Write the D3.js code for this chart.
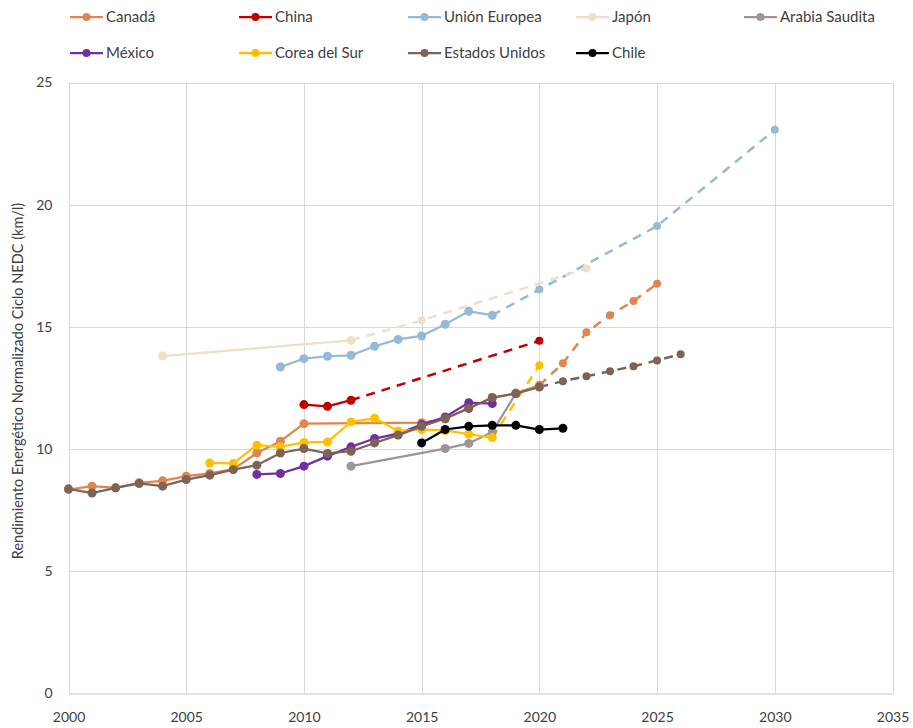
<!DOCTYPE html>
<html>
<head>
<meta charset="utf-8">
<script src="https://cdn.jsdelivr.net/npm/d3@7"></script>
<style>
  body { margin: 0; background: #fff; }
  text { font-family: Lato, "Open Sans", sans-serif; fill: #404040; }
</style>
</head>
<body>
<script>
// datos observados [año, km/l]
var canada = [[2000, 8.33], [2001, 8.47], [2002, 8.40], [2003, 8.61], [2004, 8.69], [2005, 8.88],
              [2006, 8.99], [2007, 9.17], [2008, 9.83], [2009, 10.31], [2010, 11.03], [2015, 11.07],
              [2016, 11.22], [2017, 11.68], [2018, 12.08], [2019, 12.28], [2020, 12.6]];
var china = [[2010, 11.81], [2011, 11.74], [2012, 11.99]];
var ue = [[2009, 13.35], [2010, 13.69], [2011, 13.79], [2012, 13.83], [2013, 14.2], [2014, 14.48],
          [2015, 14.62], [2016, 15.1], [2017, 15.63], [2018, 15.47]];
var japon = [[2004, 13.8], [2012, 14.44]];
var arabia = [[2012, 9.29], [2016, 10.01], [2017, 10.22], [2018, 10.69], [2019, 12.26]];
var mexico = [[2008, 8.95], [2009, 8.99], [2010, 9.29], [2011, 9.7], [2012, 10.08], [2013, 10.42],
              [2014, 10.62], [2015, 10.99], [2016, 11.3], [2017, 11.89], [2018, 11.85]];
var corea = [[2006, 9.42], [2007, 9.4], [2008, 10.15], [2009, 10.08], [2010, 10.26], [2011, 10.28],
             [2012, 11.1], [2013, 11.25], [2014, 10.73], [2015, 10.79], [2016, 10.75], [2017, 10.6], [2018, 10.46]];
var eeuu = [[2000, 8.36], [2001, 8.19], [2002, 8.40], [2003, 8.58], [2004, 8.47], [2005, 8.74],
            [2006, 8.92], [2007, 9.15], [2008, 9.33], [2009, 9.83], [2010, 10.01], [2011, 9.81],
            [2012, 9.9], [2013, 10.24], [2014, 10.56], [2015, 10.92], [2016, 11.24], [2017, 11.65],
            [2018, 12.1], [2019, 12.26], [2020, 12.53]];
var chile = [[2015, 10.24], [2016, 10.79], [2017, 10.92], [2018, 10.96], [2019, 10.96], [2020, 10.79], [2021, 10.84]];

// metas / proyecciones (línea discontinua)
var canadaMeta = [[2020, 12.6], [2021, 13.5], [2022, 14.77], [2023, 15.47], [2024, 16.05], [2025, 16.76]];
var chinaMeta = [[2012, 11.99], [2020, 14.42]];
var ueMeta = [[2018, 15.47], [2020, 16.52], [2025, 19.12], [2030, 23.06]];
var japonMeta = [[2012, 14.44], [2015, 15.26], [2022, 17.38]];
var coreaMeta = [[2018, 10.46], [2020, 13.42]];
var eeuuMeta = [[2020, 12.53], [2021, 12.77], [2022, 12.97], [2023, 13.18], [2024, 13.38], [2025, 13.62], [2026, 13.87]];

var xTicks = [2000, 2005, 2010, 2015, 2020, 2025, 2030, 2035];
var yTicks = [0, 5, 10, 15, 20, 25];

var series = [
  {name: "Canadá", data: canada, meta: canadaMeta, color: "#e0854f"},
  {name: "China", data: china, meta: chinaMeta, color: "#c00000"},
  {name: "Unión Europea", data: ue, meta: ueMeta, color: "#95b9d9"},
  {name: "Japón", data: japon, meta: japonMeta, color: "#eee0c7"},
  {name: "Arabia Saudita", data: arabia, meta: null, color: "#9e9494"},
  {name: "México", data: mexico, meta: null, color: "#7030a0"},
  {name: "Corea del Sur", data: corea, meta: coreaMeta, color: "#ffc000"},
  {name: "Estados Unidos", data: eeuu, meta: eeuuMeta, color: "#7b6355"},
  {name: "Chile", data: chile, meta: null, color: "#000000"}
];

var width = 913, height = 728;
var margin = {top: 82.5, right: 20.5, bottom: 35, left: 68.5};

var svg = d3.select("body").append("svg")
    .attr("width", width)
    .attr("height", height);

var x = d3.scaleLinear().domain([2000, 2035]).range([margin.left, width - margin.right]);
var y = d3.scaleLinear().domain([0, 25]).range([height - margin.bottom, margin.top]);

// rejilla
svg.append("g")
   .selectAll("line.vg")
   .data(xTicks)
   .enter().append("line")
   .attr("x1", function(d) { return Math.round(x(d)) + 0.5; })
   .attr("x2", function(d) { return Math.round(x(d)) + 0.5; })
   .attr("y1", y(25)).attr("y2", y(0))
   .attr("stroke", "#d9d9d9").attr("stroke-width", 1);

svg.append("g")
   .selectAll("line.hg")
   .data(yTicks.slice(1))
   .enter().append("line")
   .attr("x1", x(2000)).attr("x2", x(2035))
   .attr("y1", function(d) { return Math.round(y(d)) + 0.5; })
   .attr("y2", function(d) { return Math.round(y(d)) + 0.5; })
   .attr("stroke", "#d9d9d9").attr("stroke-width", 1);

// ejes
var xAxis = svg.append("g")
   .attr("transform", "translate(0," + (Math.round(y(0)) + 0.5) + ")")
   .call(d3.axisBottom(x).tickValues(xTicks).tickFormat(d3.format("d")).tickSize(0).tickPadding(19));
xAxis.select(".domain").attr("stroke", "#c8c8c8");
xAxis.selectAll("text").style("font-size", "14px").style("fill", "#404040");

var yAxis = svg.append("g")
   .attr("transform", "translate(" + x(2000) + ",0)")
   .call(d3.axisLeft(y).tickValues(yTicks).tickSize(0).tickPadding(16));
yAxis.select(".domain").remove();
yAxis.selectAll("text").style("font-size", "14px").style("fill", "#404040");

svg.append("text")
   .attr("transform", "rotate(-90)")
   .attr("x", -381)
   .attr("y", 23)
   .style("text-anchor", "middle")
   .style("font-size", "14.5px")
   .text("Rendimiento Energético Normalizado Ciclo NEDC (km/l)");

var line = d3.line()
    .x(function(d) { return x(d[0]); })
    .y(function(d) { return y(d[1]); });

var plot = svg.append("g");

series.forEach(function(s) {
  if (s.meta) {
    plot.append("path")
        .datum(s.meta)
        .attr("fill", "none")
        .attr("stroke", s.color)
        .attr("stroke-width", 2.5)
        .attr("stroke-dasharray", "9,7")
        .attr("d", line);
    plot.selectAll(null)
        .data(s.meta.slice(1))
        .enter().append("circle")
        .attr("cx", function(d) { return x(d[0]); })
        .attr("cy", function(d) { return y(d[1]); })
        .attr("r", 4)
        .attr("fill", s.color);
  }
});

series.forEach(function(s) {
  plot.append("path")
      .datum(s.data)
      .attr("fill", "none")
      .attr("stroke", s.color)
      .attr("stroke-width", 2.25)
      .attr("d", line);
  plot.selectAll(null)
      .data(s.data)
      .enter().append("circle")
      .attr("cx", function(d) { return x(d[0]); })
      .attr("cy", function(d) { return y(d[1]); })
      .attr("r", 4.5)
      .attr("fill", s.color);
});

// leyenda
var legendCols = [70, 239, 408, 576, 744];
var legend = svg.append("g");
series.forEach(function(s, i) {
  var row = i < 5 ? 0 : 1;
  var col = i < 5 ? i : i - 5;
  var g = legend.append("g")
      .attr("transform", "translate(" + legendCols[col] + "," + (17 + row * 36) + ")");
  g.append("line")
   .attr("x1", 0).attr("x2", 33)
   .attr("stroke", s.color).attr("stroke-width", 2.25);
  g.append("circle").attr("cx", 16.5).attr("r", 4).attr("fill", s.color);
  g.append("text")
   .attr("x", 36)
   .attr("dy", "0.35em")
   .style("font-size", "15px")
   .text(s.name);
});
</script>
</body>
</html>
